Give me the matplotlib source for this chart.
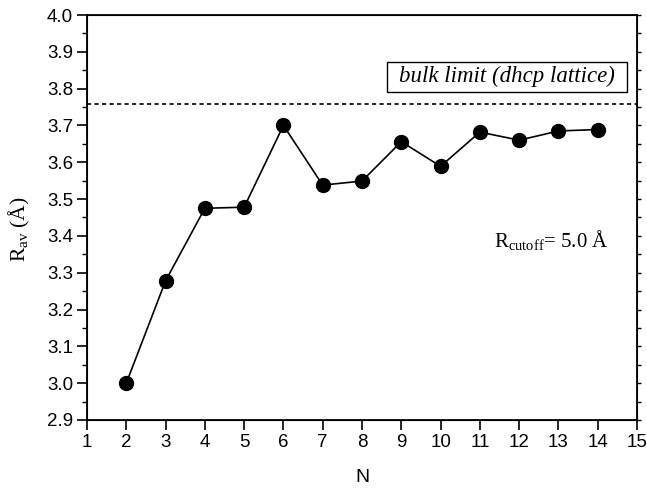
import matplotlib
matplotlib.use("Agg")
import matplotlib.pyplot as plt
from matplotlib.ticker import MultipleLocator
from matplotlib.patches import Rectangle

N = [2, 3, 4, 5, 6, 7, 8, 9, 10, 11, 12, 13, 14]
R_av = [3.000, 3.278, 3.475, 3.478, 3.700, 3.538, 3.549, 3.656, 3.589, 3.682, 3.660, 3.685, 3.689]
bulk_limit = 3.758
bulk_label = "bulk limit (dhcp lattice)"
cutoff_label = r"$\mathregular{R_{cutoff}}$= 5.0 Å"
xticks = list(range(1, 16))
yticks = [2.9, 3.0, 3.1, 3.2, 3.3, 3.4, 3.5, 3.6, 3.7, 3.8, 3.9, 4.0]

plt.rcParams['mathtext.fontset'] = 'custom'
plt.rcParams['mathtext.rm'] = 'Liberation Serif'
plt.rcParams['mathtext.it'] = 'Liberation Serif:italic'

fig = plt.figure(figsize=(6.47, 4.91), dpi=100)
ax = fig.add_axes([87/647, 71/491, 550/647, 405/491])

ax.plot(N, R_av, color='black', lw=1.2, marker='o', markersize=10, zorder=3)
ax.axhline(bulk_limit, color='black', lw=1.2, ls=(0, (2.5, 2.0)))

ax.set_xlim(1, 15)
ax.set_ylim(2.9, 4.0)
ax.set_xticks(xticks)
ax.set_yticks(yticks)
ax.set_yticklabels([f"{v:.1f}" for v in yticks])
ax.yaxis.set_minor_locator(MultipleLocator(0.05))

sans = 'Liberation Sans'
serif = 'Liberation Serif'
for lab in ax.get_xticklabels() + ax.get_yticklabels():
    lab.set_fontfamily(sans)
    lab.set_fontsize(13.5)

ax.tick_params(axis='both', which='major', direction='out', length=7, width=1.2, color='black', pad=3)
ax.tick_params(axis='y', which='minor', direction='out', length=3.5, width=1.0)
for s in ax.spines.values():
    s.set_linewidth(1.3)

# right-hand axis with small outward ticks only
ax2 = ax.twinx()
ax2.set_ylim(2.9, 4.0)
ax2.yaxis.set_major_locator(MultipleLocator(0.05))
ax2.tick_params(axis='y', which='major', direction='out', length=3, width=1.0, labelright=False)

ax.set_xlabel("N", fontfamily=sans, fontsize=14, labelpad=13)
ax.set_ylabel(r"$\mathregular{R_{av}}$ (Å)", fontfamily=serif, fontsize=15.5)
ax.yaxis.set_label_coords(-0.1, 0.47)

# label box
ax.add_patch(Rectangle((8.63, 3.79), 6.11, 0.083, fill=True, fc='white', ec='black', lw=1.0, zorder=4))
ax.text(11.69, 3.832, bulk_label, fontfamily=serif, fontstyle='italic', fontsize=16.5,
        ha='center', va='center', zorder=5)
ax.text(11.35, 3.39, cutoff_label, fontfamily=serif, fontsize=15, ha='left', va='center')

fig.savefig("out.png", dpi=100)
